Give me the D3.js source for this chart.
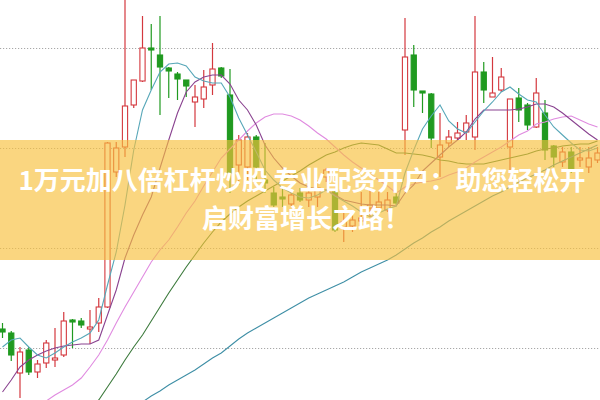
<!DOCTYPE html>
<html>
<head>
<meta charset="utf-8">
<script src="https://cdn.jsdelivr.net/npm/d3@7"></script>
<style>
  html, body { margin: 0; padding: 0; background: #ffffff; }
  svg { display: block; }
</style>
</head>
<body>
<svg id="chart" width="600" height="400"></svg>
<script>
// ---------------- DATA ----------------
const opens  = [11.9, 11.5, 7.5, 9.8, 7.6, 8.5, 8.8, 9.3, 12.8, 12.7, 11.9, 12.5, 14.1, 27.6, 30.1, 34.3, 36.7, 40.0, 39.3, 38.0,
                37.4, 36.8, 34.6, 34.9, 36.3, 38.0, 35.3, 28.3, 28.1, 31.1, 26.8, 25.5, 25.1, 24.4, 25.5, 24.8, 25.1, 27.1, 25.6, 22.1,
                22.2, 22.7, 24.0, 24.0, 23.8, 25.1, 31.8, 39.3, 35.7, 35.4, 29.1, 30.5, 31.0, 31.6, 31.1, 37.6, 35.1, 35.8, 30.1, 35.0,
                34.3, 32.1, 33.5, 30.2, 28.6, 29.6, 28.8, 28.1, 28.8];
const closes = [11.6, 9.3, 9.6, 7.6, 8.4, 10.5, 9.0, 12.7, 12.6, 12.3, 12.1, 14.1, 30.5, 30.0, 34.2, 36.8, 40.0, 39.8, 38.1, 37.7,
                36.9, 36.2, 35.1, 36.1, 37.9, 37.2, 27.5, 30.8, 31.1, 28.1, 26.5, 24.3, 24.9, 25.3, 24.8, 25.5, 26.0, 27.8, 21.8, 22.6,
                22.8, 23.0, 24.3, 24.6, 24.8, 24.5, 39.1, 35.8, 35.5, 31.0, 30.3, 31.1, 31.5, 32.5, 37.6, 35.8, 35.5, 37.1, 34.9, 33.8,
                32.3, 35.5, 29.8, 29.1, 29.6, 27.8, 29.0, 29.0, 29.5];
const highs  = [12.5, 11.7, 10.1, 10.1, 8.8, 10.8, 12.0, 13.6, 12.9, 13.0, 13.8, 15.0, 30.6, 30.6, 45.5, 36.8, 43.2, 42.4, 43.2, 38.1,
                37.6, 36.8, 36.3, 37.8, 40.5, 38.1, 37.9, 31.3, 31.5, 31.3, 30.5, 26.1, 26.1, 25.8, 26.0, 26.5, 26.8, 28.0, 25.8, 23.5,
                23.3, 25.6, 25.8, 25.6, 25.6, 25.6, 43.0, 40.3, 35.7, 35.5, 33.5, 31.8, 32.6, 33.3, 43.2, 38.6, 39.1, 38.0, 34.9, 36.0,
                34.5, 37.0, 34.8, 30.3, 30.1, 30.1, 30.1, 30.1, 30.1];
const lows   = [11.0, 8.7, 5.0, 7.3, 7.0, 8.0, 8.1, 9.1, 10.0, 12.0, 10.4, 11.6, 14.0, 27.1, 29.1, 34.0, 36.6, 35.8, 33.3, 35.0,
                34.8, 35.1, 32.1, 34.0, 35.3, 37.0, 25.5, 26.3, 26.8, 26.8, 25.5, 24.1, 24.1, 24.2, 24.6, 24.1, 24.1, 26.6, 21.6, 20.6,
                21.6, 22.3, 23.1, 23.8, 23.6, 24.3, 29.3, 34.1, 33.5, 30.0, 27.1, 30.1, 30.8, 30.8, 29.8, 34.5, 35.1, 35.6, 27.8, 32.6,
                31.8, 32.0, 28.8, 28.1, 28.1, 27.5, 28.1, 27.5, 28.5];

const ma5   = [10.1, 10.8, 11.0, 10.1, 9.3, 9.0, 9.5, 10.1, 10.6, 11.0, 11.5, 12.8, 16.3, 19.6, 24.3, 29.8, 33.8, 35.8, 37.6, 38.4,
               38.5, 38.2, 37.1, 36.7, 36.5, 36.5, 35.1, 33.0, 31.3, 29.6, 27.8, 26.8, 26.0, 25.5, 25.1, 25.0, 25.3, 25.8, 25.2, 24.7,
               24.2, 23.6, 23.1, 23.5, 23.9, 24.2, 27.5, 29.8, 31.9, 33.2, 34.3, 32.7, 31.9, 31.5, 32.6, 33.7, 34.6, 35.6, 36.1, 35.4,
               34.8, 34.6, 33.3, 32.1, 31.3, 30.5, 29.8, 29.7, 30.0];
const ma10  = [5.6, 6.8, 8.1, 8.8, 9.3, 9.7, 10.0, 10.2, 10.3, 10.4, 10.4, 10.8, 13.3, 15.8, 19.0, 21.3, 23.3, 25.1, 28.0, 30.8,
               33.5, 35.6, 36.6, 37.1, 37.3, 37.3, 36.4, 34.8, 33.8, 32.3, 30.3, 29.0, 28.0, 27.2, 26.5, 26.1, 25.9, 25.8, 25.3, 24.8,
               24.6, 24.4, 24.3, 24.3, 24.3, 24.2, 25.5, 26.3, 27.7, 28.5, 29.3, 30.1, 30.8, 31.6, 32.9, 33.8, 33.8, 33.8, 33.8, 33.9,
               34.1, 34.4, 34.4, 34.1, 33.5, 32.8, 32.1, 31.4, 30.8];
const ma20  = [null, null, null, null, 4.0, 4.7, 5.3, 5.8, 6.3, 7.0, 8.1, 9.3, 10.8, 12.5, 14.1, 15.6, 17.1, 18.6, 19.8, 20.8,
               22.1, 23.5, 24.7, 26.2, 27.6, 29.0, 29.9, 30.8, 31.7, 32.5, 33.1, 33.4, 33.4, 33.2, 32.8, 32.2, 31.5, 30.9, 30.1, 29.3,
               28.6, 28.0, 27.4, 26.8, 26.2, 25.5, 26.1, 26.4, 26.6, 26.7, 26.9, 27.3, 27.6, 28.0, 28.6, 29.1, 29.6, 30.1, 30.7, 31.3,
               31.7, 32.4, 32.6, 32.9, 33.1, 33.2, 32.8, 32.4, 32.1];
const ma30  = [null, null, null, null, null, null, null, null, null, null, 4.1, 4.8, 6.1, 7.4, 8.8, 10.1, 11.3, 12.7, 14.1, 15.5,
               16.8, 18.1, 19.3, 20.5, 21.6, 22.6, 23.4, 24.1, 24.7, 25.2, 25.7, 26.2, 26.7, 27.2, 27.7, 28.3, 28.8, 29.3, 29.6, 30.0,
               30.3, 30.5, 30.4, 30.3, 29.9, 29.5, 29.5, 29.4, 29.3, 29.1, 28.8, 28.7, 28.5, 28.4, 28.4, 28.4, 28.6, 28.8, 29.0, 29.2,
               29.4, 29.7, 29.9, 30.0, 30.2, 30.3, 30.4, 30.4, 30.7];
const ma120 = [null, null, null, null, null, null, null, null, null, null, null, null, null, null, null, 4.0, 4.6, 5.2, 5.7, 6.3,
               6.8, 7.3, 7.8, 8.4, 9.0, 9.5, 10.2, 10.9, 11.5, 12.0, 12.5, 13.0, 13.5, 14.0, 14.5, 15.0, 15.4, 15.8, 16.2, 16.6,
               17.1, 17.6, 18.0, 18.4, 18.8, 19.3, 19.9, 20.5, 21.0, 21.6, 22.1, 22.7, 23.2, 23.7, 24.2, 24.7, 25.2, 25.6, 26.1, 26.6,
               27.0, 27.4, 27.8, 28.3, 28.7, 29.1, 29.5, 29.9, 30.3];

const gridValues  = [10, 20, 30, 40];
const bannerLines = ["1万元加八倍杠杆炒股 专业配资开户：助您轻松开", "启财富增长之路！"];

// ---------------- DRAWING ----------------
const W = 600, H = 400;
const svg = d3.select("#chart");

const x = d3.scaleLinear().domain([0, closes.length - 1]).range([2.5, 597.5]);
const y = d3.scaleLinear().domain([4.8, 44.8]).range([H, 0]);

svg.append("defs").append("clipPath").attr("id", "clip")
  .append("rect").attr("x", 0).attr("y", 0).attr("width", W).attr("height", H);

const plot = svg.append("g").attr("clip-path", "url(#clip)");

// dotted horizontal grid
plot.append("g").selectAll("line").data(gridValues).join("line")
  .attr("x1", 0).attr("x2", W)
  .attr("y1", d => Math.round(y(d)) + 0.5).attr("y2", d => Math.round(y(d)) + 0.5)
  .attr("stroke", "#a8a8a8").attr("stroke-width", 1)
  .attr("stroke-dasharray", "1.2,1.8");

const RED = "#d4383e", GREEN = "#209a20";
const candles = closes.map((c, i) => ({ i, o: opens[i], h: highs[i], l: lows[i], c }));

const cg = plot.append("g");
// wicks
cg.selectAll("line.wick").data(candles).join("line").attr("class", "wick")
  .attr("x1", d => x(d.i)).attr("x2", d => x(d.i))
  .attr("y1", d => y(d.h)).attr("y2", d => y(d.l))
  .attr("stroke", d => d.c >= d.o ? RED : GREEN).attr("stroke-width", 1.2);
// bodies
cg.selectAll("rect.body").data(candles).join("rect").attr("class", "body")
  .attr("x", d => x(d.i) - 2.6).attr("width", 5.2)
  .attr("y", d => y(Math.max(d.o, d.c)))
  .attr("height", d => Math.max(1.2, Math.abs(y(d.o) - y(d.c))))
  .attr("fill", d => d.c >= d.o ? "#ffffff" : GREEN)
  .attr("stroke", d => d.c >= d.o ? RED : GREEN).attr("stroke-width", 1.1);

// moving averages
const series = [
  { v: ma120, color: "#3f8fa6" },
  { v: ma30,  color: "#3c7a3c" },
  { v: ma20,  color: "#e08be0" },
  { v: ma10,  color: "#8a4390" },
  { v: ma5,   color: "#57a7b8" }
];
const line = d3.line().defined(d => d != null).x((d, i) => x(i)).y(d => y(d));
plot.append("g").selectAll("path").data(series).join("path")
  .attr("d", s => line(s.v))
  .attr("fill", "none").attr("stroke", s => s.color).attr("stroke-width", 1.1);

// banner overlay
svg.append("rect").attr("x", 0).attr("y", 140).attr("width", W).attr("height", 120)
  .attr("fill", "rgb(248,192,60)").attr("fill-opacity", 0.65);

svg.append("g").selectAll("text").data(bannerLines).join("text")
  .attr("x", (d, i) => i === 0 ? 302 : 306).attr("y", (d, i) => 190 + i * 38)
  .attr("text-anchor", "middle")
  .attr("font-family", "'Noto Sans CJK SC', 'Noto Sans', sans-serif")
  .attr("font-size", 26).attr("font-weight", "bold")
  .attr("fill", "#ffffff")
  .text(d => d);
</script>
</body>
</html>
